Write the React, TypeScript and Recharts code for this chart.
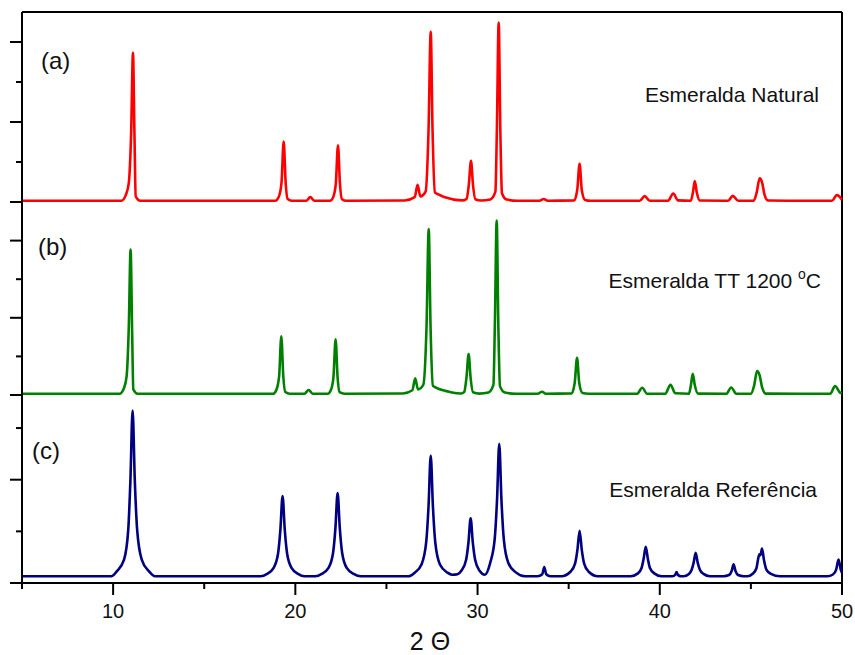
import { LineChart, Line, XAxis, YAxis, ReferenceLine } from "recharts";

// 2θ (degrees), intensity (counts)
const natural: [number, number][] = [
  [5, 15], [10.45, 15], [10.7, 89], [10.86, 237], [10.99, 866], [11.09, 1865], [11.17, 866], [11.24, 71], [11.5, 15],
  [18.9, 15], [19.08, 59], [19.24, 237], [19.36, 755], [19.47, 237], [19.58, 37], [19.8, 15],
  [20.6, 15], [20.82, 61], [21.05, 15],
  [21.9, 15], [22.07, 57], [22.22, 223], [22.34, 709], [22.45, 223], [22.56, 35], [22.8, 15],
  [26.0, 18], [26.55, 60], [26.71, 214], [26.86, 70], [27.15, 130], [27.31, 900], [27.43, 2129], [27.53, 900],
  [27.66, 120], [27.85, 95], [28.2, 60], [28.41, 48], [28.7, 30], [29.2, 20],
  [29.4, 40], [29.52, 215], [29.64, 515], [29.75, 215], [29.88, 35], [30.2, 18], [30.7, 32],
  [30.98, 130], [31.06, 900], [31.16, 2244], [31.25, 900], [31.34, 110], [31.6, 30], [32.2, 15],
  [33.4, 15], [33.63, 37], [33.85, 15],
  [35.3, 20], [35.47, 150], [35.6, 477], [35.72, 150], [35.9, 25], [36.2, 15],
  [38.9, 15], [39.17, 74], [39.45, 15],
  [40.45, 15], [40.74, 106], [41.0, 20],
  [41.7, 15], [41.82, 120], [41.92, 261], [42.03, 120], [42.2, 18],
  [43.75, 15], [44.01, 77], [44.3, 15],
  [45.15, 15], [45.32, 120], [45.48, 295], [45.62, 240], [45.75, 90], [45.95, 18],
  [49.45, 15], [49.72, 86], [50, 30],
];

const heated: [number, number][] = [
  [5, 16], [10.35, 16], [10.6, 91], [10.74, 241], [10.86, 876], [10.96, 1885], [11.04, 876], [11.11, 72], [11.35, 16],
  [18.78, 16], [18.95, 60], [19.11, 240], [19.23, 760], [19.34, 240], [19.45, 38], [19.7, 16],
  [20.5, 16], [20.73, 65], [20.95, 16],
  [21.78, 16], [21.94, 58], [22.09, 226], [22.21, 721], [22.32, 226], [22.43, 36], [22.7, 16],
  [25.9, 20], [26.42, 62], [26.58, 217], [26.73, 72], [27.02, 130], [27.2, 890], [27.32, 2149], [27.42, 890],
  [27.55, 120], [27.72, 95], [28.1, 60], [28.4, 44], [28.6, 32], [29.1, 20],
  [29.27, 42], [29.39, 220], [29.51, 529], [29.62, 220], [29.75, 36], [30.1, 18], [30.6, 32],
  [30.87, 130], [30.95, 910], [31.05, 2261], [31.14, 910], [31.23, 115], [31.5, 32], [32.1, 16],
  [33.3, 16], [33.54, 42], [33.75, 16],
  [35.16, 21], [35.33, 155], [35.46, 481], [35.58, 155], [35.76, 26], [36.1, 16],
  [38.75, 16], [39.04, 94], [39.3, 16],
  [40.3, 16], [40.59, 133], [40.85, 22],
  [41.6, 16], [41.71, 130], [41.81, 276], [41.92, 130], [42.1, 18],
  [43.65, 16], [43.92, 98], [44.2, 16],
  [45.0, 16], [45.18, 125], [45.34, 311], [45.48, 255], [45.62, 95], [45.82, 18],
  [49.35, 16], [49.62, 116], [49.9, 30], [50, 25],
];

const reference: [number, number][] = [
  [5, 65], [9.9, 65], [10.2, 113], [10.6, 226], [10.83, 514], [10.95, 996], [11.07, 1670], [11.19, 996],
  [11.32, 514], [11.57, 226], [11.97, 113], [12.3, 65],
  [18.1, 65], [18.45, 88], [18.8, 143], [19.05, 283], [19.18, 516], [19.3, 842], [19.42, 516], [19.55, 283],
  [19.8, 143], [20.15, 88], [20.5, 65],
  [21.1, 65], [21.45, 89], [21.82, 146], [22.07, 291], [22.2, 532], [22.32, 871], [22.44, 532], [22.57, 291],
  [22.82, 146], [23.2, 89], [23.6, 65],
  [26.2, 65], [26.55, 100], [26.93, 182], [27.18, 393], [27.31, 744], [27.43, 1235], [27.55, 744], [27.68, 393],
  [27.93, 182], [28.35, 100], [28.6, 80],
  [28.9, 85], [29.12, 121], [29.37, 222], [29.5, 390], [29.62, 626], [29.74, 390], [29.87, 222], [30.12, 115],
  [30.4, 80], [30.69, 193], [30.94, 424], [31.07, 809], [31.19, 1347], [31.31, 809], [31.44, 424], [31.69, 193],
  [32.1, 103], [32.6, 65],
  [33.3, 65], [33.55, 85], [33.66, 155], [33.77, 85], [34.0, 65],
  [34.6, 65], [35.1, 109], [35.35, 188], [35.48, 321], [35.6, 506], [35.72, 321], [35.85, 188], [36.1, 109], [36.6, 65],
  [38.4, 65], [38.8, 93], [39.0, 145], [39.11, 230], [39.23, 350], [39.35, 230], [39.46, 145], [39.7, 93], [40.1, 65],
  [40.7, 65], [40.85, 80], [40.92, 107], [40.99, 80], [41.15, 65],
  [41.3, 65], [41.6, 88], [41.75, 129], [41.86, 197], [41.97, 292], [42.08, 197], [42.2, 129], [42.4, 88], [42.75, 65],
  [43.5, 65], [43.8, 77], [43.95, 118], [44.05, 181], [44.15, 118], [44.3, 77], [44.6, 65],
  [44.8, 65], [45.1, 90], [45.3, 140], [45.4, 235], [45.47, 278], [45.53, 270], [45.61, 333], [45.72, 220],
  [45.85, 130], [46.1, 88], [46.6, 65],
  [49.2, 65], [49.5, 82], [49.68, 130], [49.81, 227], [49.93, 130], [50, 100],
];

const xTicks = [5, 10, 15, 20, 25, 30, 35, 40, 45, 50];
const topTicks = [0, 500, 1000, 1500, 2000];
const midTicks = [0, 500, 1000, 1500, 2000];
const lowTicks = [0, 500, 1000, 1500];

const rows = (pts: [number, number][]) => pts.map(([t, i]) => ({ t, i }));

const FONT = "'Liberation Sans', Arial, sans-serif";
const INK = "#111";

function YTick(props: any) {
  const { x, y, payload } = props;
  const major = payload.value % 1000 === 0;
  return <line x1={x} y1={y} x2={x - (major ? 12 : 6)} y2={y} stroke="#000" strokeWidth={2} />;
}

function XTick(props: any) {
  const { x, y, payload } = props;
  const major = payload.value % 10 === 0;
  return (
    <g>
      <line x1={x} y1={y} x2={x} y2={y + (major ? 12 : 6)} stroke="#000" strokeWidth={2} />
      {major && (
        <text x={x} y={y + 35} textAnchor="middle" fontSize={20} fontFamily={FONT} fill={INK}>
          {payload.value}
        </text>
      )}
    </g>
  );
}

function Panel(props: {
  data: [number, number][];
  color: string;
  max: number;
  ticks: number[];
  top: number;
  height: number;
  margin: { top: number; right: number; bottom: number; left: number };
  frameTop?: boolean;
  showX?: boolean;
}) {
  const { data, color, max, ticks, top, height, margin, frameTop, showX } = props;
  return (
    <div style={{ position: "absolute", left: 0, top }}>
      <LineChart width={855} height={height} data={rows(data)} margin={margin}>
        <XAxis
          dataKey="t"
          type="number"
          domain={[5, 50]}
          ticks={xTicks}
          interval={0}
          hide={!showX}
          height={showX ? 72 : 0}
          axisLine={{ stroke: "#000", strokeWidth: 2 }}
          tickLine={false}
          tickSize={0}
          tickMargin={0}
          tick={(p: any) => <XTick {...p} />}
        />
        <YAxis
          type="number"
          domain={[0, max]}
          ticks={ticks}
          interval={0}
          width={22}
          axisLine={{ stroke: "#000", strokeWidth: 2 }}
          tickLine={false}
          tickSize={0}
          tickMargin={0}
          tick={(p: any) => <YTick {...p} />}
        />
        <ReferenceLine x={50} stroke="#000" strokeWidth={2} />
        {frameTop && <ReferenceLine y={max} stroke="#000" strokeWidth={2} />}
        <Line
          dataKey="i"
          type="monotone"
          stroke={color}
          strokeWidth={2.6}
          dot={false}
          isAnimationActive={false}
        />
      </LineChart>
    </div>
  );
}

export default function App() {
  return (
    <div
      style={{
        position: "absolute",
        left: 0,
        top: 0,
        width: 855,
        height: 655,
        background: "#fff",
        fontFamily: FONT,
      }}
    >
      <Panel
        data={natural}
        color="#ff0000"
        max={2375}
        ticks={topTicks}
        top={0}
        height={212}
        margin={{ top: 12, right: 13, bottom: 10, left: 0 }}
        frameTop
      />
      <Panel
        data={heated}
        color="#008000"
        max={2500}
        ticks={midTicks}
        top={192}
        height={213}
        margin={{ top: 10, right: 13, bottom: 10, left: 0 }}
      />
      <Panel
        data={reference}
        color="#000080"
        max={1820}
        ticks={lowTicks}
        top={385}
        height={270}
        margin={{ top: 10, right: 13, bottom: 0, left: 0 }}
        showX
      />
      <svg
        width={855}
        height={655}
        style={{ position: "absolute", left: 0, top: 0, pointerEvents: "none" }}
      >
        <g fontFamily={FONT} fill={INK} fontSize={21}>
          <text x={41} y={69} fontSize={24}>(a)</text>
          <text x={38} y={255} fontSize={24}>(b)</text>
          <text x={32} y={459} fontSize={24}>(c)</text>
          <text x={819} y={102} textAnchor="end">Esmeralda Natural</text>
          <text x={821} y={288} textAnchor="end">
            Esmeralda TT 1200{" "}
            <tspan fontSize={14} dy={-9}>o</tspan>
            <tspan dy={9}>C</tspan>
          </text>
          <text x={817} y={497} textAnchor="end">Esmeralda Referência</text>
          <text x={430} y={650} textAnchor="middle" fontSize={25}>2 Θ</text>
        </g>
      </svg>
    </div>
  );
}
